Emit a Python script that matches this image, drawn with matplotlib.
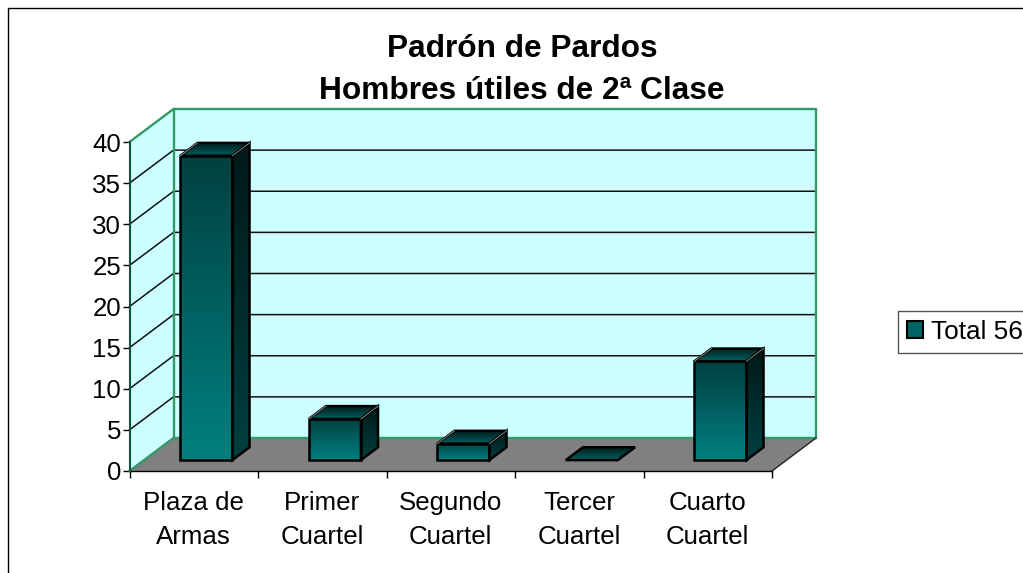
import numpy as np
import matplotlib
matplotlib.use('Agg')
import matplotlib.pyplot as plt
from matplotlib.colors import LinearSegmentedColormap
from matplotlib.patches import Polygon, Patch

plt.rcParams['font.family'] = ['Liberation Sans', 'DejaVu Sans']

title_lines = ['Padrón de Pardos', 'Hombres útiles de 2ª Clase']
categories = ['Plaza de\nArmas', 'Primer\nCuartel', 'Segundo\nCuartel', 'Tercer\nCuartel', 'Cuarto\nCuartel']
values = [37, 5, 2, 0, 12]
y_ticks = [0, 5, 10, 15, 20, 25, 30, 35, 40]
legend_label = 'Total 56'

W, H = 1023, 573
GREEN = '#339966'
WALL = '#ccffff'
FLOOR = '#808080'

fig = plt.figure(figsize=(W / 100, H / 100), dpi=100)
ax = fig.add_axes([129.5 / W, 1 - 471 / H, 642.5 / W, 329 / H])
ax.patch.set_visible(False)
n = len(categories)
ymax = y_ticks[-1]

# depth of the fake 3d box, in data units
DX = 44 / 642.5 * n
DY = 33 / 329 * ymax


def pt(x, y, d=0.0):
    return (x + d * DX, y + d * DY)


def face(points, **kw):
    p = Polygon(points, closed=True, clip_on=False, **kw)
    ax.add_patch(p)
    return p


def shaded(points, cmap, zorder):
    # vertical gradient clipped to the polygon
    xs, ys = zip(*points)
    grad = np.linspace(1, 0, 256).reshape(-1, 1)
    im = ax.imshow(grad, cmap=cmap, aspect='auto', origin='upper', vmin=0, vmax=1,
                   extent=(min(xs), max(xs), min(ys), max(ys)), zorder=zorder)
    clip = Polygon(points, closed=True, transform=ax.transData)
    im.set_clip_path(clip)
    im.set_clip_box(fig.bbox)


front_cm = LinearSegmentedColormap.from_list('front', ['#008080', '#004040'])
side_cm = LinearSegmentedColormap.from_list('side', ['#004040', '#001818'])
top_cm = LinearSegmentedColormap.from_list('top', ['#006060', '#001c1c'])

# walls and floor
face([pt(0, 0, 1), pt(n, 0, 1), pt(n, ymax, 1), pt(0, ymax, 1)], facecolor=WALL, edgecolor='none', zorder=1)
face([pt(0, 0), pt(0, 0, 1), pt(0, ymax, 1), pt(0, ymax)], facecolor=WALL, edgecolor='none', zorder=1)
face([pt(0, 0), pt(n, 0), pt(n, 0, 1), pt(0, 0, 1)], facecolor=FLOOR, edgecolor='none', zorder=1.5)

for v in y_ticks[1:-1]:
    ax.plot(*zip(pt(0, v), pt(0, v, 1), pt(n, v, 1)), color='#111111', lw=1.1, zorder=2, clip_on=False)

ax.plot(*zip(pt(0, 0), pt(0, 0, 1), pt(n, 0, 1), pt(n, ymax, 1), pt(0, ymax, 1), pt(0, ymax)),
        color=GREEN, lw=1.7, zorder=2.5, clip_on=False)
ax.plot(*zip(pt(0, 0, 1), pt(0, ymax, 1)), color=GREEN, lw=1.7, zorder=2.5, clip_on=False)
ax.plot(*zip(pt(n, 0), pt(n, 0, 1)), color='#222222', lw=1, zorder=2.5, clip_on=False)

# bars
bar_w = 0.405
d0, d1 = 0.33, 0.72
for i, v in enumerate(values):
    z = 3 + i
    x0 = i + 0.5 - bar_w / 2 - 0.015
    x1 = x0 + bar_w
    front = [pt(x0, 0, d0), pt(x1, 0, d0), pt(x1, v, d0), pt(x0, v, d0)]
    side = [pt(x1, 0, d0), pt(x1, 0, d1), pt(x1, v, d1), pt(x1, v, d0)]
    top = [pt(x0, v, d0), pt(x1, v, d0), pt(x1, v, d1), pt(x0, v, d1)]
    if v > 0:
        shaded(front, front_cm, z)
        shaded(side, side_cm, z)
    shaded(top, top_cm, z)
    for poly in (front, side, top):
        if v > 0 or poly is top:
            face(poly, facecolor='none', edgecolor='black', lw=1.8, joinstyle='miter', zorder=z + 0.2)
    if v > 0:
        ax.plot(*zip(pt(x1, v, d0), pt(x1, v, d1)), color='#999999', lw=0.6, zorder=z + 0.3, clip_on=False)
        ax.plot(*zip(pt(x0, v, d0), pt(x0, v, d1)), color='#999999', lw=0.6, zorder=z + 0.3, clip_on=False)

# axes
ax.set_xlim(0, n)
ax.set_ylim(0, ymax)
ax.set_yticks(y_ticks)
ax.set_xticks(range(n + 1))
ax.set_xticklabels([])
ax.set_xticks(np.arange(n) + 0.5, categories, minor=True, linespacing=1.52)
ax.tick_params(axis='x', which='minor', length=0, pad=14.5, labelsize=18.6)
ax.tick_params(axis='x', which='major', length=5, width=1)
ax.tick_params(axis='y', length=5, width=1, labelsize=18.6, pad=1)
for s in ('top', 'right'):
    ax.spines[s].set_visible(False)
ax.spines['left'].set_color('#14503c')
ax.spines['left'].set_linewidth(1.5)
ax.spines['left'].set_zorder(2.6)
ax.spines['bottom'].set_linewidth(1)

fig.suptitle('\n'.join(title_lines), x=522 / W, y=1 - 70 / H, va='center', ha='center',
             fontsize=22.8, fontweight='bold', linespacing=1.5)

fig.legend(handles=[Patch(facecolor='#006464', edgecolor='black', lw=1.5, label=legend_label)],
           loc='center left', bbox_to_anchor=(898 / W, 1 - 332 / H), borderaxespad=0, frameon=True,
           fancybox=False, framealpha=1, edgecolor='#555555', fontsize=18.8,
           handlelength=0.62, handleheight=0.62, handletextpad=0.3, borderpad=0.34)

# chart area border, cut off by the image on the right and bottom
fig.add_artist(plt.Line2D([7.5 / W, 7.5 / W, 1], [0, 1 - 7.5 / H, 1 - 7.5 / H], color='black', lw=1))

fig.savefig('out.png', dpi=100)
